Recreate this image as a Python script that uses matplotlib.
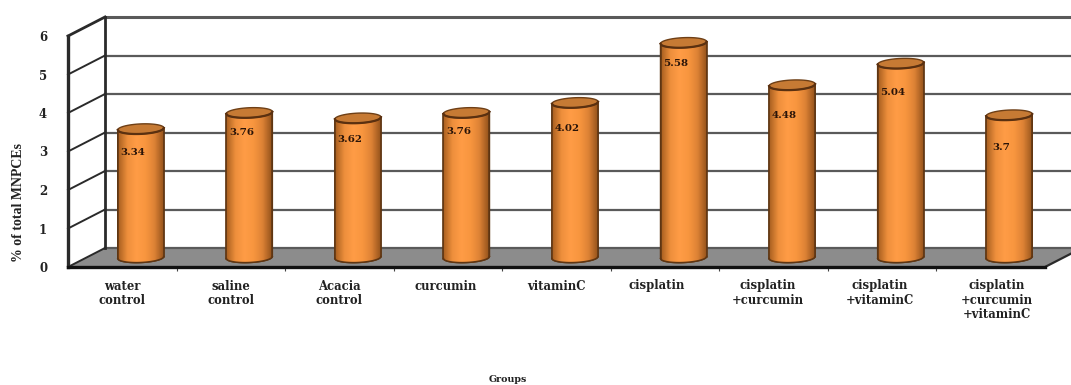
import numpy as np
import matplotlib
matplotlib.use('Agg')
import matplotlib.pyplot as plt
from matplotlib.colors import LinearSegmentedColormap
from matplotlib.patches import Polygon
from matplotlib.transforms import ScaledTranslation

groups = ['water\ncontrol', 'saline\ncontrol', 'Acacia\ncontrol', 'curcumin',
          'vitaminC', 'cisplatin', 'cisplatin\n+curcumin', 'cisplatin\n+vitaminC',
          'cisplatin\n+curcumin\n+vitaminC']
values = [3.34, 3.76, 3.62, 3.76, 4.02, 5.58, 4.48, 5.04, 3.7]
value_labels = ['3.34', '3.76', '3.62', '3.76', '4.02', '5.58', '4.48', '5.04', '3.7']
yticks = [0, 1, 2, 3, 4, 5, 6]
# how far under the bar top each value label sits
label_drop = [0.62, 0.52, 0.55, 0.50, 0.68, 0.55, 0.80, 0.75, 0.85]
# sideways nudge of the group labels, in pixels
group_shift = [0, 0, 0, -2, 0, -8, -6, -2, 6]

plt.rcParams['font.family'] = ['DejaVu Serif']

W, H = 1071, 385
fig = plt.figure(figsize=(W / 100, H / 100), dpi=100)
ax = fig.add_axes([68 / W, 1 - 267 / H, 977 / W, 231 / H])
for s in ax.spines.values():
    s.set_visible(False)

# oblique offset of the back wall, in data units
DX = 37 / (977 / 9)
DY = 19 / (231 / 6)
line = '#2a2a2a'
grid = '#5a5a5a'
edge = '#5e3512'

# floor
ax.add_patch(Polygon([(0, 0), (DX, DY), (9 + DX, DY), (9, 0)], closed=True,
                     fc='#8c8c8c', ec='none', clip_on=False, zorder=1))
ax.plot([DX, 9 + DX], [DY, DY], color=grid, lw=1.6, clip_on=False, zorder=1.5)
ax.plot([9, 9 + DX], [0, DY], color=line, lw=1.6, clip_on=False, zorder=1.5)

# gridlines along the wall and the side wall
for t in yticks[1:]:
    ax.plot([DX, 9 + DX], [t + DY, t + DY], color=grid,
            lw=2.2 if t == 6 else 1.6, clip_on=False, zorder=1)
    ax.plot([0, DX], [t, t + DY], color=line, lw=2.0 if t == 6 else 1.4,
            clip_on=False, zorder=1)
ax.plot([0, DX], [0, DY], color=line, lw=1.4, clip_on=False, zorder=2)
ax.plot([DX, DX], [DY, 6 + DY], color=line, lw=2.0, clip_on=False, zorder=2)
ax.plot([0, 0], [0, 6], color=line, lw=2.4, clip_on=False, zorder=6)
ax.plot([0, 9], [0, 0], color='#111111', lw=2.4, clip_on=False, zorder=6)

# cylinders
shade = LinearSegmentedColormap.from_list(
    'cyl', ['#a85f20', '#ee8f3c', '#ff9c46', '#f8963f', '#dd8235', '#96541c'])
ramp = np.linspace(0, 1, 64).reshape(1, -1)
half = 23 / (977 / 9)
rise = 5 / (231 / 6)
tilt = 1 / (231 / 6)
t = np.linspace(0, 2 * np.pi, 120)
for i, (v, txt, drop) in enumerate(zip(values, value_labels, label_drop)):
    cx = i + 0.5 + DX / 2
    y0 = DY / 2
    y1 = y0 + v
    xs = np.linspace(-1, 1, 60)
    low = y0 - rise * np.sqrt(1 - xs ** 2) + tilt * xs
    top = y1 + tilt * xs
    outline = np.r_[np.c_[cx + half * xs, low], np.c_[cx + half * xs[::-1], top[::-1]]]
    body = Polygon(outline, closed=True, fc='#ee8f3c', ec=edge, lw=1.1,
                   clip_on=False, zorder=3)
    ax.add_patch(body)
    im = ax.imshow(ramp, cmap=shade, aspect='auto', zorder=3.1,
                   extent=(cx - half, cx + half, y0 - rise - tilt, y1 + tilt))
    im.set_clip_path(body)
    ax.plot(cx + half * xs, low, color=edge, lw=1.1, clip_on=False, zorder=3.2)
    ax.plot([cx - half, cx - half], [y0 - tilt, y1 - tilt], color=edge, lw=1.1,
            zorder=3.2, clip_on=False)
    ax.plot([cx + half, cx + half], [y0 + tilt, y1 + tilt], color=edge, lw=1.1,
            zorder=3.2, clip_on=False)
    # top cap, darker along its front rim
    cap = np.c_[cx + half * np.cos(t), y1 + rise * np.sin(t) + tilt * np.cos(t)]
    ax.add_patch(Polygon(cap, closed=True, fc='#c67a34', ec='#6e3f16', lw=1.0,
                         clip_on=False, zorder=3.3))
    ax.plot(cx + half * xs, y1 - rise * np.sqrt(1 - xs ** 2) + tilt * xs, color='#5a3010',
            lw=1.6, clip_on=False, zorder=3.4)
    ax.text(cx - 0.072, y1 - drop, txt, ha='center', va='center', fontsize=7.4,
            fontweight='bold', color='#2a1408', zorder=4)

ax.set_xlim(0, 9)
ax.set_ylim(0, 6)

ax.set_yticks(yticks)
ax.set_yticklabels([str(v) for v in yticks], fontsize=8.5, fontweight='bold', color='#222222')
ax.tick_params(axis='y', length=0, pad=15)
ax.set_xticks(np.arange(1, 9))
ax.set_xticklabels([])
ax.set_xticks(np.arange(9) + 0.5, minor=True)
ax.set_xticklabels(groups, minor=True, fontsize=8.4, fontweight='bold', color='#222222',
                   linespacing=1.12)
ax.tick_params(axis='x', which='major', length=3, width=0.8, color='#444444')
ax.tick_params(axis='x', which='minor', length=0, pad=9)
for lab, sh in zip(ax.get_xticklabels(minor=True), group_shift):
    lab.set_transform(lab.get_transform() + ScaledTranslation(sh / 100, 0, fig.dpi_scale_trans))

fig.text(19 / W, 1 - 203 / H, '% of total MNPCEs', rotation=90, ha='center', va='center',
         fontsize=10, fontweight='bold', color='#222222', family='Liberation Serif')
fig.text(508 / W, 1 - 379 / H, 'Groups', ha='center', va='center',
         fontsize=6.8, fontweight='bold', color='#222222')

fig.savefig('out.png', dpi=100)
